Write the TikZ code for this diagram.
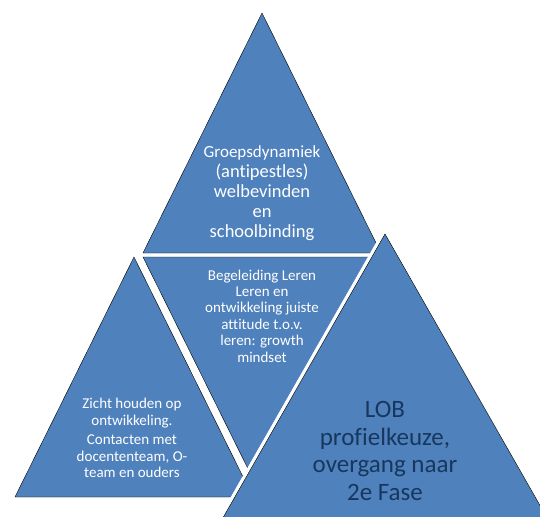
\documentclass[tikz,border=0pt]{standalone}
\usepackage{fontspec}
\setmainfont{Carlito}[Ligatures=NoCommon]
\definecolor{segblue}{RGB}{79,129,189}
\definecolor{lobnavy}{RGB}{23,55,94}
\tikzset{
  seg/.style={fill=segblue},
  seglabel/.style={text=white, align=center, font=\fontsize{15}{16.4}\selectfont},
}
\begin{document}
\begin{tikzpicture}[x=1pt, y=-1pt]

\clip (0,0) rectangle (540,516);
\fill[white] (0,0) rectangle (540,516);

\filldraw[seg] (262,13) -- (381,253) -- (143,253) -- cycle;
\filldraw[seg] (143,257) -- (381,257) -- (262,497) -- cycle;
\filldraw[seg] (134,257) -- (253,497) -- (15,497) -- cycle;
\filldraw[seg, preaction={draw=white, line width=7pt}] (385,234) -- (554,530) -- (216,530) -- cycle;

\node[seglabel, font=\fontsize{18.5}{20}\selectfont] (dynamiek) at (262,193)
  {{\fontsize{17}{20}\selectfont Groepsdynamiek}\\(antipestles)\\welbevinden\\en\\schoolbinding};
\node[seglabel] (leren) at (262,316)
  {Begeleiding Leren\\Leren en\\ontwikkeling juiste\\attitude t.o.v.\\leren: growth\\mindset};
\node[seglabel] (zicht) at (132,438)
  {Zicht houden op\\ontwikkeling.\\[3pt]Contacten met\\docententeam, O-\\team en ouders};
\node[seglabel, text=lobnavy, font=\fontsize{25}{27.5}\selectfont] (lob) at (385,451)
  {LOB\\profielkeuze,\\overgang naar\\2e Fase};

\end{tikzpicture}
\end{document}
